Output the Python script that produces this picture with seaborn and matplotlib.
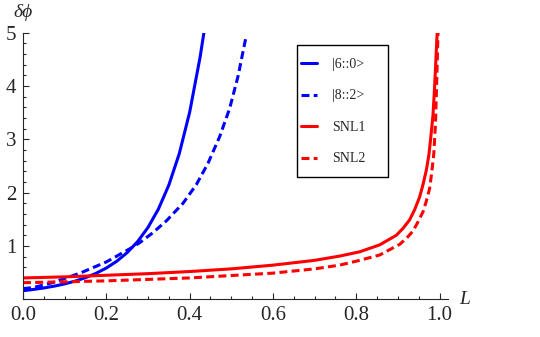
import numpy as np
import pandas as pd
import seaborn as sns
import matplotlib
matplotlib.use("Agg")
import matplotlib.pyplot as plt
from matplotlib.patches import Rectangle
from matplotlib.ticker import MultipleLocator, FormatStrFormatter

# values
L_60 = [0, 0.025, 0.05, 0.075, 0.1, 0.125, 0.15, 0.175, 0.2, 0.225, 0.25, 0.275,
        0.3, 0.325, 0.35, 0.375, 0.4, 0.425, 0.435]
v_60 = [0.16, 0.184, 0.212, 0.246, 0.288, 0.34, 0.405, 0.485, 0.586, 0.713, 0.875, 1.081,
        1.347, 1.692, 2.141, 2.729, 3.508, 4.54, 5.04]

L_82 = [0, 0.025, 0.07, 0.137, 0.2, 0.257, 0.28, 0.312, 0.344, 0.384, 0.416, 0.444,
        0.472, 0.496, 0.516, 0.536]
v_82 = [0.20, 0.22, 0.31, 0.49, 0.70, 0.95, 1.06, 1.25, 1.47, 1.80, 2.15, 2.55,
        3.05, 3.58, 4.18, 4.95]

L_snl1 = [0, 0.1, 0.2, 0.3, 0.4, 0.5, 0.6, 0.7, 0.76, 0.808, 0.856, 0.896, 0.912, 0.928,
          0.94, 0.952, 0.96, 0.968, 0.974, 0.978, 0.984, 0.988, 0.994]
v_snl1 = [0.40, 0.42, 0.45, 0.48, 0.52, 0.57, 0.64, 0.73, 0.81, 0.89, 1.02, 1.20, 1.33, 1.49,
          1.68, 1.92, 2.15, 2.42, 2.70, 2.98, 3.45, 4.0, 5.0]

L_snl2 = [0, 0.2, 0.4, 0.6, 0.7, 0.76, 0.808, 0.856, 0.904, 0.92, 0.936, 0.948, 0.96,
          0.968, 0.976, 0.981, 0.986, 0.990, 0.993, 0.996]
v_snl2 = [0.31, 0.345, 0.40, 0.49, 0.57, 0.64, 0.73, 0.83, 1.03, 1.14, 1.28, 1.45, 1.64,
          1.84, 2.08, 2.38, 2.73, 3.3, 4.1, 5.0]

labels = ["|6::0>", "|8::2>", "SNL1", "SNL2"]

df = pd.concat([
    pd.DataFrame({"L": L_60, "dphi": v_60, "state": labels[0]}),
    pd.DataFrame({"L": L_82, "dphi": v_82, "state": labels[1]}),
    pd.DataFrame({"L": L_snl1, "dphi": v_snl1, "state": labels[2]}),
    pd.DataFrame({"L": L_snl2, "dphi": v_snl2, "state": labels[3]}),
])

sns.set_style("ticks")
plt.rcParams['font.family'] = ['Liberation Serif', 'DejaVu Serif']

fig = plt.figure(figsize=(5.4, 3.37), dpi=100)
ax = fig.add_axes([0.0426, 0.112, 0.787, 0.791])

pal = {labels[0]: "#0000ff", labels[1]: "#0000ff", labels[2]: "#ff0000", labels[3]: "#ff0000"}
dash = {labels[0]: "", labels[1]: (2.6, 1.4), labels[2]: "", labels[3]: (2.6, 1.4)}
sns.lineplot(data=df, x="L", y="dphi", hue="state", style="state", palette=pal,
             dashes=dash, sort=False, estimator=None, linewidth=2.2, ax=ax)

ax.set_xlim(0, 1.02)
ax.set_ylim(0, 5)
ax.set_xticks([0, 0.2, 0.4, 0.6, 0.8, 1.0])
ax.set_yticks([1, 2, 3, 4, 5])
ax.xaxis.set_major_formatter(FormatStrFormatter('%.1f'))
ax.xaxis.set_minor_locator(MultipleLocator(0.05))
ax.yaxis.set_minor_locator(MultipleLocator(0.2))
ax.tick_params(which='both', direction='in', labelsize=15, width=0.8)
ax.tick_params(which='major', length=4)
ax.tick_params(which='minor', length=2.5)
ax.tick_params(axis='x', pad=5)
ax.tick_params(axis='y', pad=5)
sns.despine(ax=ax)
ax.set_xlabel("")
ax.set_ylabel("")

fig.text(0.024, 0.964, "δϕ", fontsize=14, style='italic', ha='left', va='center')
fig.text(0.86, 0.11, "L", fontsize=14, style='italic', ha='center', va='center')

# legend box drawn as a plain square frame
fig.patches.append(Rectangle((0.55, 0.4748), 0.1685, 0.3917, transform=fig.transFigure,
                             fill=False, edgecolor='black', linewidth=1.0))
leg = ax.legend(loc='upper left', bbox_to_anchor=(0.557, 0.828),
                bbox_transform=fig.transFigure, fontsize=10, frameon=False,
                handlelength=1.15, handletextpad=1.08, labelspacing=1.33,
                borderpad=0, borderaxespad=0, title=None)

fig.savefig("out.png", dpi=100)
